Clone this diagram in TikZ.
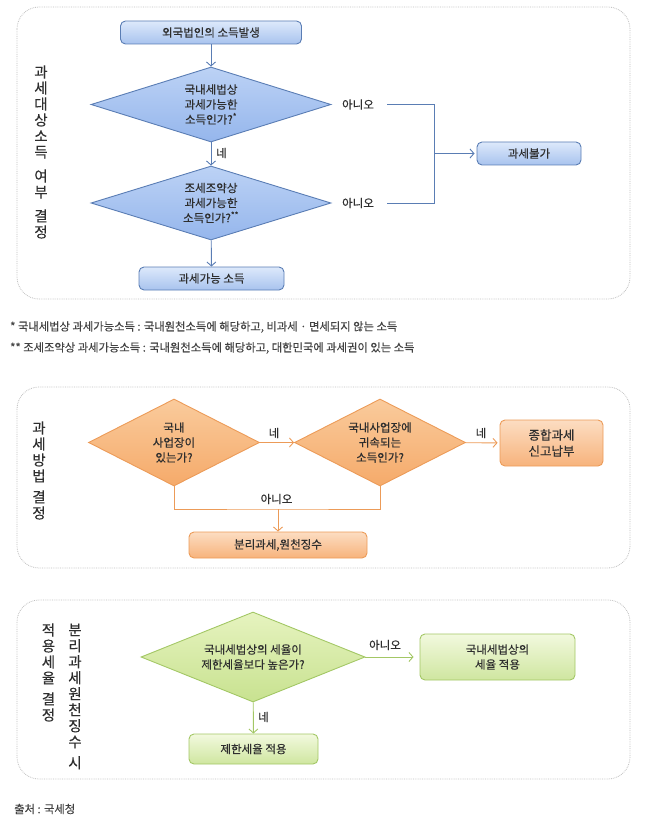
\documentclass[tikz,border=0pt]{standalone}
\usepackage{fontspec}
\setmainfont{Noto Sans CJK KR}[FakeBold=0.35]
\usetikzlibrary{shapes.geometric,arrows.meta}

\definecolor{txt}{HTML}{2E2E2E}
\definecolor{blueline}{HTML}{5A7DB4}
\definecolor{blueA}{HTML}{DDE9FB}
\definecolor{blueB}{HTML}{A8C3EE}
\definecolor{bluedA}{HTML}{BCD2F5}
\definecolor{bluedB}{HTML}{95B6EC}
\definecolor{orangeline}{HTML}{EC9B58}
\definecolor{orangeA}{HTML}{FCDDC2}
\definecolor{orangeB}{HTML}{F7B37C}
\definecolor{orangedA}{HTML}{FACB9C}
\definecolor{orangedB}{HTML}{F5AA6A}
\definecolor{greenline}{HTML}{A3C765}
\definecolor{greenA}{HTML}{F2F9DE}
\definecolor{greenB}{HTML}{CFE6A0}
\definecolor{greendA}{HTML}{E6F3BF}
\definecolor{greendB}{HTML}{C8E290}

\begin{document}
\begin{tikzpicture}[x=1pt, y=-1pt, text=txt,
  font=\fontsize{11.5}{15}\selectfont,
  panel/.style={draw=gray!50, densely dotted, line width=0.8pt, rounded corners=22pt},
  sidelabel/.style={font=\fontsize{14.5}{16}\selectfont, align=center, inner sep=0pt},
  note/.style={font=\fontsize{11.3}{13}\selectfont, text=txt!90, anchor=west, inner sep=0pt},
  answer/.style={inner sep=0pt},
  box/.style={rectangle, rounded corners=5pt, line width=0.9pt, align=center, inner sep=0pt},
  ask/.style={diamond, line width=0.9pt, align=center, inner sep=0pt},
  bluebox/.style={box, draw=blueline, top color=blueA, bottom color=blueB},
  blueask/.style={ask, draw=blueline, top color=bluedA, bottom color=bluedB, aspect=3.2},
  orangebox/.style={box, draw=orangeline, top color=orangeA, bottom color=orangeB},
  orangeask/.style={ask, draw=orangeline, top color=orangedA, bottom color=orangedB, aspect=2},
  greenbox/.style={box, draw=greenline, top color=greenA, bottom color=greenB},
  greenask/.style={ask, draw=greenline, top color=greendA, bottom color=greendB, aspect=2.5},
  arr/.style={-{Straight Barb[length=4pt,width=9pt]}, line width=0.9pt}
]
\useasboundingbox (0,0) rectangle (646,829);

% panels
\draw[panel] (17,7) rectangle (630,299);
\draw[panel] (17,387) rectangle (630,568);
\draw[panel] (17,600) rectangle (630,779);

% taxable income
\node[sidelabel] (label1) at (41,152) {과\\세\\대\\상\\소\\득\\[8pt]여\\부\\[8pt]결\\정};
\node[bluebox, minimum width=181pt, minimum height=23pt] (src) at (211,32.5) {외국법인의 소득발생};
\node[blueask, minimum width=240pt, minimum height=75pt] (q1) at (211,104.5) {국내세법상\\과세가능한\\소득인가?\textsuperscript{*}};
\node[blueask, minimum width=240pt, minimum height=74pt] (q2) at (211,203) {조세조약상\\과세가능한\\소득인가?\textsuperscript{**}};
\node[bluebox, minimum width=145pt, minimum height=23pt] (ok) at (211.5,278.5) {과세가능 소득};
\node[bluebox, minimum width=104pt, minimum height=23pt] (nogo) at (529,153.5) {과세불가};
\node[answer, anchor=west] (yes1) at (216,153) {네};
\node[answer] (no1) at (358,104.5) {아니오};
\node[answer] (no2) at (358,203) {아니오};
\coordinate (join) at (434,153.5);

\draw[arr, blueline] (src) -- (q1);
\draw[arr, blueline] (q1) -- (q2);
\draw[arr, blueline] (q2) -- (ok);
\draw[blueline, line width=0.9pt] ([xshift=13pt]no1.east) -| (join);
\draw[blueline, line width=0.9pt] ([xshift=13pt]no2.east) -| (join);
\draw[arr, blueline, shorten >=2pt] (join) -- (nogo);

% footnotes
\node[note] (note1) at (10,327) {* 국내세법상 과세가능소득 : 국내원천소득에 해당하고, 비과세 · 면세되지 않는 소득};
\node[note] (note2) at (10,348) {** 조세조약상 과세가능소득 : 국내원천소득에 해당하고, 대한민국에 과세권이 있는 소득};

% taxation method
\node[sidelabel] (label2) at (39,470.5) {과\\세\\방\\법\\[5pt]결\\정};
\node[orangeask, minimum width=171pt, minimum height=87pt] (site) at (174,442.5) {국내\\사업장이\\있는가?};
\node[orangeask, minimum width=171pt, minimum height=87pt] (belong) at (380,442.5) {국내사업장에\\귀속되는\\소득인가?};
\node[orangebox, minimum width=103pt, minimum height=46pt, font=\fontsize{12.5}{16}\selectfont] (joint) at (551.5,443) {종합과세\\신고납부};
\node[orangebox, minimum width=178pt, minimum height=26pt] (sep) at (278,545) {분리과세,원천징수};
\node[answer] (yes2) at (274,433) {네};
\node[answer] (yes3) at (481,433) {네};
\node[answer] (no3) at (276.5,499) {아니오};
\coordinate (merge) at (278,509);

\draw[arr, orangeline] (site) -- (belong);
\draw[arr, orangeline, shorten >=2pt] (belong) -- (joint);
\draw[orangeline, line width=0.9pt] (site.south) |- (merge) -| (belong.south);
\draw[arr, orangeline] (merge) -- (sep);

% tax rate
\node[sidelabel] (label3) at (48.5,672.5) {적\\용\\세\\율\\[5pt]결\\정};
\node[sidelabel] (label4) at (75,696.5) {분\\리\\과\\세\\원\\천\\징\\수\\[5pt]시};
\node[greenask, minimum width=224pt, minimum height=90pt] (rate) at (253,657) {국내세법상의 세율이\\제한세율보다 높은가?};
\node[greenbox, minimum width=155pt, minimum height=46pt] (dom) at (497.5,657) {국내세법상의\\세율 적용};
\node[greenbox, minimum width=129pt, minimum height=30pt] (cap) at (253.5,749) {제한세율 적용};
\node[answer] (no4) at (385,645) {아니오};
\node[answer, anchor=west] (yes4) at (258,717) {네};

\draw[arr, greenline, shorten >=6pt] (rate) -- (dom);
\draw[arr, greenline] (rate) -- (cap);

% source
\node[note] (src2) at (14,809) {출처 : 국세청};
\end{tikzpicture}
\end{document}
